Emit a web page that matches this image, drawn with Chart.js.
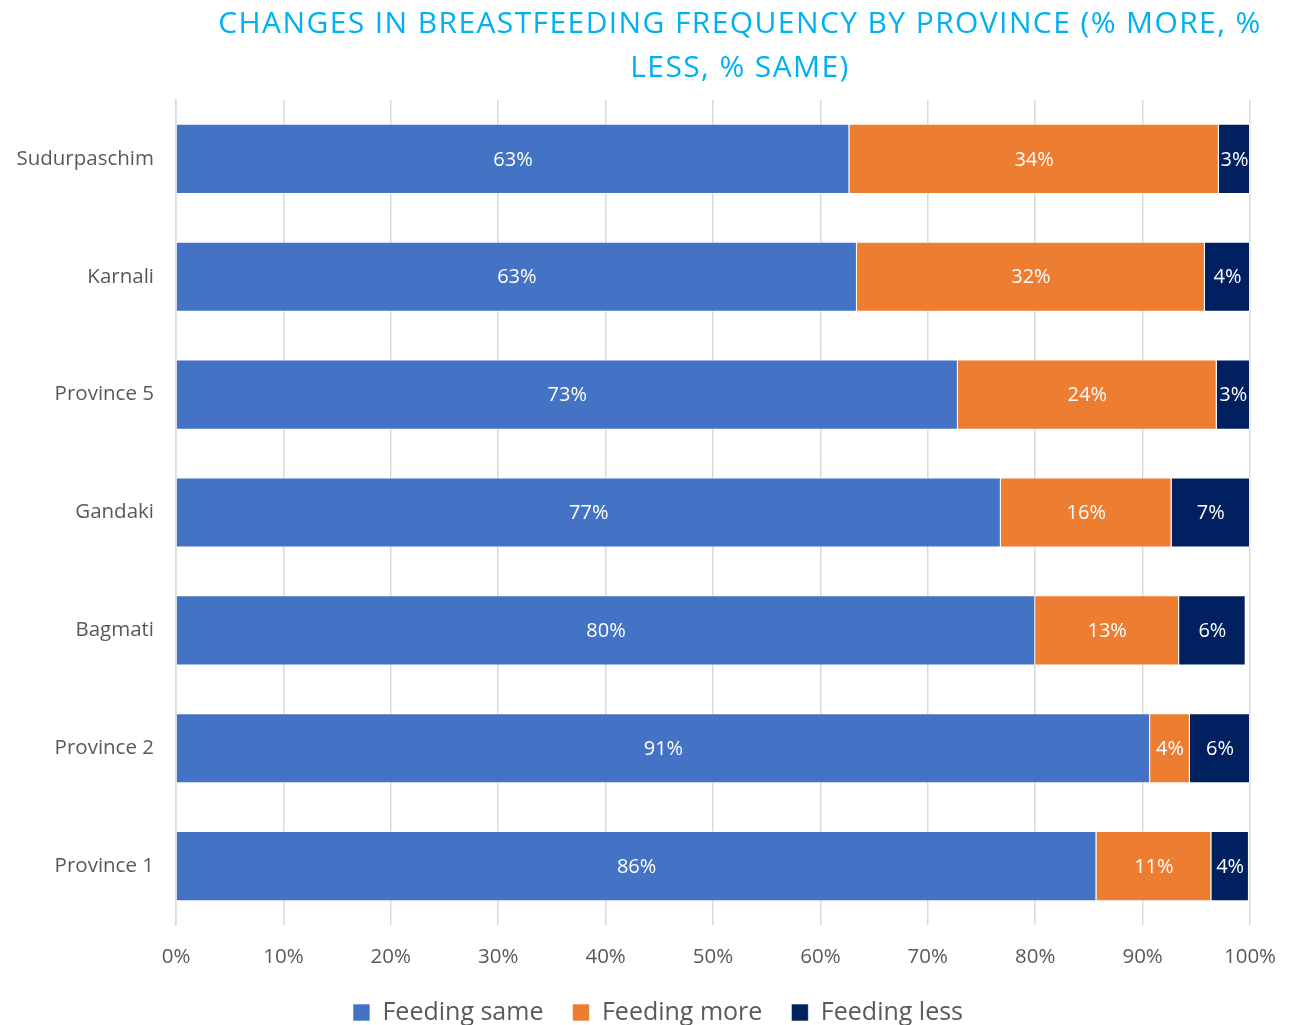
<!DOCTYPE html>
<html>
<head>
    <title>Changes in Breastfeeding Frequency by Province</title>
    <script src="https://cdn.jsdelivr.net/npm/chart.js"></script>
    <style>
        body {
            margin: 0;
            background: #fff;
            font-family: "Open Sans", Arial, sans-serif;
        }

        .wrap {
            position: relative;
            width: 1291px;
            height: 1025px;
        }

        h1 {
            position: absolute;
            left: 187px;
            width: 1106px;
            top: 0px;
            margin: 0;
            text-align: center;
            font-weight: normal;
            font-size: 30px;
            line-height: 44px;
            color: #00B0F0;
            letter-spacing: 1.4px;
        }
    </style>
</head>
<body>
    <div class="wrap">
        <h1>CHANGES IN BREASTFEEDING FREQUENCY BY PROVINCE (% MORE, %<br>LESS, % SAME)</h1>
        <canvas id="provinceChart" width="1291" height="1025"></canvas>
    </div>

    <script>
        const provinces = ['Sudurpaschim', 'Karnali', 'Province 5', 'Gandaki', 'Bagmati', 'Province 2', 'Province 1'];
        const feedingSame = [62.7, 63.4, 72.8, 76.8, 80.0, 90.7, 85.7];
        const feedingMore = [34.4, 32.4, 24.1, 15.9, 13.4, 3.7, 10.7];
        const feedingLess = [2.9, 4.2, 3.1, 7.3, 6.2, 5.6, 3.5];
        const xTicks = [0, 10, 20, 30, 40, 50, 60, 70, 80, 90, 100];

        const FONT = '"Open Sans", Arial, sans-serif';

        // white % labels in the middle of every segment
        const barLabels = {
            id: 'barLabels',
            afterDatasetsDraw(chart) {
                const ctx = chart.ctx;
                ctx.save();
                ctx.fillStyle = '#ffffff';
                ctx.font = '20px ' + FONT;
                ctx.textAlign = 'center';
                ctx.textBaseline = 'middle';
                chart.data.datasets.forEach((ds, i) => {
                    chart.getDatasetMeta(i).data.forEach((bar, j) => {
                        const cx = (bar.x + bar.base) / 2;
                        ctx.fillText(Math.round(ds.data[j]) + '%', cx, bar.y + 1);
                    });
                });
                ctx.restore();
            }
        };

        new Chart(document.getElementById('provinceChart'), {
            type: 'bar',
            data: {
                labels: provinces,
                datasets: [
                    { label: 'Feeding same', data: feedingSame, backgroundColor: '#4472C4' },
                    { label: 'Feeding more', data: feedingMore, backgroundColor: '#ED7D31' },
                    { label: 'Feeding less', data: feedingLess, backgroundColor: '#002060' }
                ].map(d => ({
                    ...d,
                    borderColor: 'rgba(255,255,255,0.6)',
                    borderWidth: 1,
                    barPercentage: 0.595,
                    categoryPercentage: 1
                }))
            },
            options: {
                responsive: false,
                animation: false,
                indexAxis: 'y',
                layout: {
                    // negative right padding only nudges the legend to the right;
                    // the plot's right edge comes from the x scale padding below
                    padding: { top: 100, left: 10, right: -15, bottom: -10 }
                },
                plugins: {
                    legend: {
                        position: 'bottom',
                        labels: {
                            boxWidth: 17,
                            boxHeight: 17,
                            padding: 29,
                            color: '#595959',
                            font: { size: 25, family: FONT }
                        }
                    },
                    tooltip: { enabled: false }
                },
                scales: {
                    x: {
                        stacked: true,
                        min: 0,
                        max: 100,
                        afterBuildTicks: s => { s.ticks = xTicks.map(v => ({ value: v })); },
                        afterFit: s => {
                            s.height = 46;
                            s.paddingLeft = 0;
                            s.paddingRight = 41;
                        },
                        grid: { color: '#d9d9d9', lineWidth: 1.5, drawTicks: false },
                        border: { display: false },
                        ticks: {
                            padding: 20,
                            color: '#595959',
                            font: { size: 20.5, family: FONT },
                            callback: v => v + '%'
                        }
                    },
                    y: {
                        stacked: true,
                        afterFit: s => { s.width = 166; },
                        grid: { display: false, drawTicks: false },
                        border: { color: '#d9d9d9', width: 1.5 },
                        ticks: {
                            padding: 22,
                            color: '#595959',
                            font: { size: 20.5, family: FONT }
                        }
                    }
                }
            },
            plugins: [barLabels]
        });
    </script>
</body>
</html>
